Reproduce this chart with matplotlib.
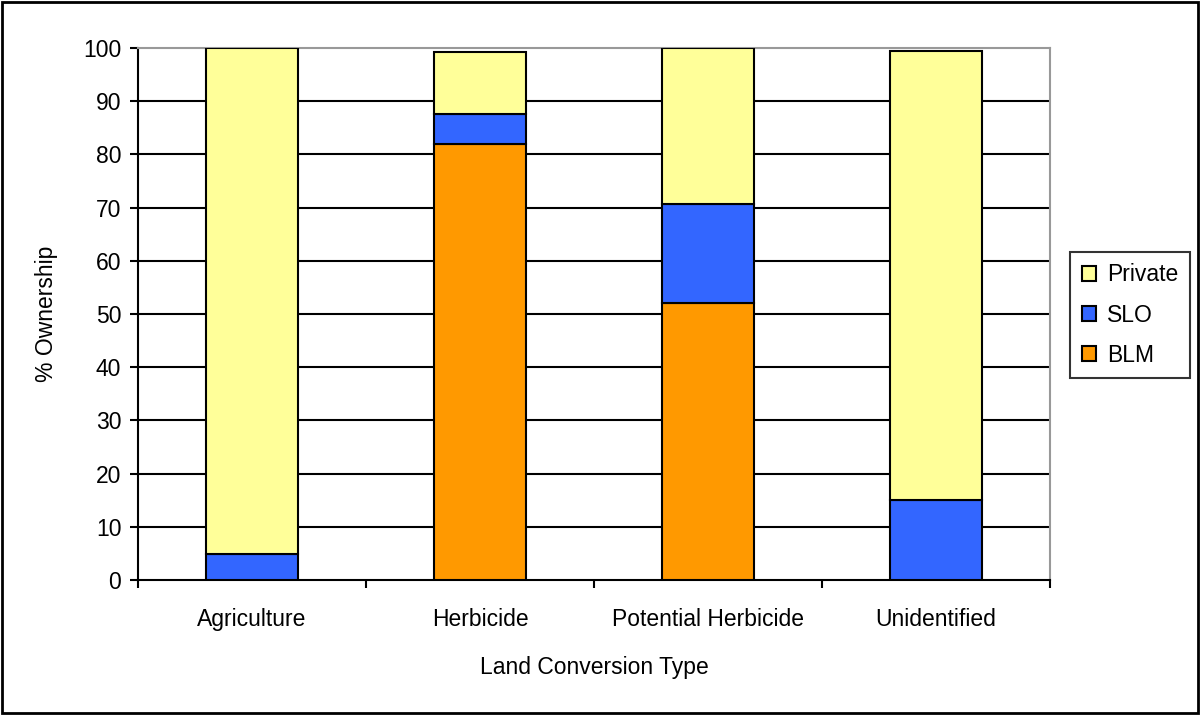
import matplotlib
matplotlib.use("Agg")
import matplotlib.pyplot as plt
import numpy as np
from matplotlib.patches import Rectangle

plt.rcParams['font.family'] = ['Liberation Sans', 'DejaVu Sans']

categories = ["Agriculture", "Herbicide", "Potential Herbicide", "Unidentified"]
blm = [0.0, 82.0, 52.0, 0.0]
slo = [4.8, 5.6, 18.7, 15.0]
private = [95.2, 11.6, 29.3, 84.5]
series_names = ["BLM", "SLO", "Private"]
colors = ["#FF9900", "#3366FF", "#FFFF99"]
yticks = list(range(0, 101, 10))

FS = 16.5

fig = plt.figure(figsize=(12, 7.15), dpi=100)
ax = fig.add_axes([138/1200, 1-580/715, (1050-138)/1200, (580-48)/715])

x = np.arange(len(categories))
bottom = np.zeros(len(categories))
handles = []
for vals, name, c in zip([blm, slo, private], series_names, colors):
    vals = np.array(vals)
    h = ax.bar(x, vals, 0.40, bottom=bottom, color=c, edgecolor='black',
               linewidth=1.5, label=name, zorder=3)
    handles.append(h)
    bottom += vals

ax.set_xlim(-0.5, len(categories) - 0.5)
ax.set_ylim(0, 100)
ax.set_yticks(yticks)
ax.set_yticklabels([str(t) for t in yticks], fontsize=FS)
for t in yticks[1:-1]:
    ax.axhline(t, color='black', linewidth=1.5, zorder=1)

ax.set_xticks(x)
ax.set_xticklabels(categories, fontsize=FS)
ax.tick_params(axis='x', length=0, pad=20)
ax.set_xticks(np.arange(-0.5, len(categories)), minor=True)
ax.tick_params(axis='x', which='minor', length=6, width=1.5, direction='out')
ax.tick_params(axis='y', length=6, width=1.5, direction='out', pad=6)

for s in ['left', 'bottom']:
    ax.spines[s].set_color('black')
    ax.spines[s].set_linewidth(1.5)
for s in ['top', 'right']:
    ax.spines[s].set_color('#999999')
    ax.spines[s].set_linewidth(1.5)

ax.set_xlabel("Land Conversion Type", fontsize=FS, labelpad=18)
ax.set_ylabel("% Ownership", fontsize=FS, labelpad=18)

leg = fig.legend(handles[::-1], series_names[::-1], loc='center',
                 bbox_to_anchor=(1130/1200, 1-315/715), fontsize=FS,
                 frameon=True, fancybox=False, edgecolor='black',
                 handlelength=0.6, handleheight=0.6, handletextpad=0.5,
                 labelspacing=0.75, borderpad=0.5, borderaxespad=0)
leg.get_frame().set_linewidth(1.5)

fig.patches.append(Rectangle((0.002, 0.003), 0.996, 0.994, transform=fig.transFigure,
                             fill=False, edgecolor='black', linewidth=2))

fig.savefig("out.png", dpi=100)
